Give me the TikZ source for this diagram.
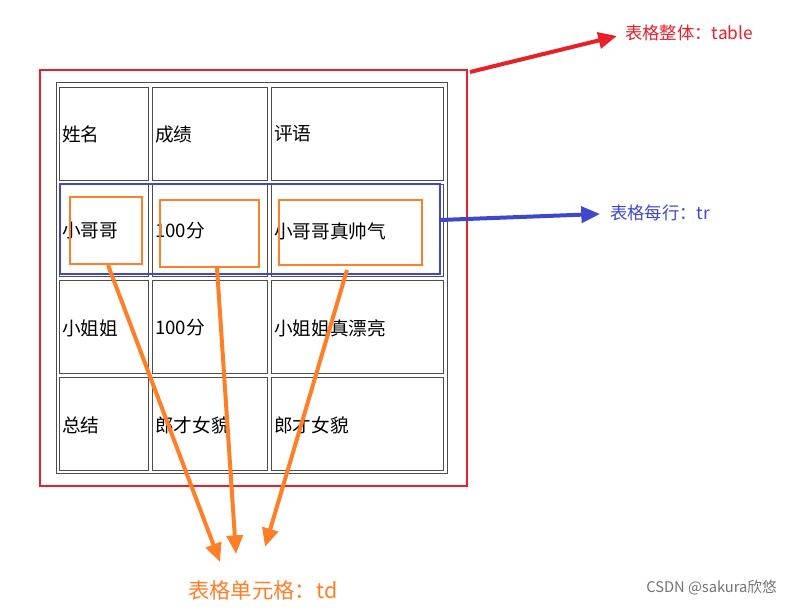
\documentclass[tikz,border=0pt]{standalone}
\usepackage{fontspec}
\setmainfont{Noto Sans CJK SC}
\usetikzlibrary{arrows.meta}
\definecolor{tred}{HTML}{E8202A}
\definecolor{tblue}{HTML}{3F48CC}
\definecolor{torange}{HTML}{FF7F27}
\tikzset{
  cellbox/.style={draw=black!70, line width=0.6pt},
  celltxt/.style={anchor=west, inner sep=0pt, font=\fontsize{14}{16}\selectfont},
  callout/.style={line width=3pt, -{Triangle[length=14pt,width=12pt]}},
  lbl/.style={anchor=west, inner sep=0pt, font=\fontsize{13}{15}\selectfont}
}
\begin{document}
\begin{tikzpicture}[x=0.75pt,y=-0.75pt]
\useasboundingbox (0,0) rectangle (792,609);
% table outer border
\draw[cellbox] (56,82) rectangle (447,473);
% cells
\foreach \xa/\xb in {59/148,152/267,271/443}{
  \foreach \ya/\yb in {87/180,184/276,280/373,377/470}{
    \draw[cellbox] (\xa,\ya) rectangle (\xb,\yb);
  }
}
\node[celltxt] (c11) at (62,134) {姓名};
\node[celltxt] (c12) at (155,134) {成绩};
\node[celltxt] (c13) at (274,134) {评语};
\node[celltxt] (c21) at (62,231) {小哥哥};
\node[celltxt] (c22) at (155,231) {100分};
\node[celltxt] (c23) at (274,231) {小哥哥真帅气};
\node[celltxt] (c31) at (62,328) {小姐姐};
\node[celltxt] (c32) at (155,328) {100分};
\node[celltxt] (c33) at (274,328) {小姐姐真漂亮};
\node[celltxt] (c41) at (62,425) {总结};
\node[celltxt] (c42) at (155,425) {郎才女貌};
\node[celltxt] (c43) at (274,425) {郎才女貌};
% highlights
\draw[tred, line width=2.2pt] (40,70) rectangle (467,486);
\draw[tblue, line width=2.2pt] (60,184) rectangle (440,274);
\draw[torange, line width=2.2pt] (70,197) rectangle (142,264);
\draw[torange, line width=2.2pt] (160,200) rectangle (259,267);
\draw[torange, line width=2.2pt] (279,200) rectangle (422,265);
% labels
\node[lbl, text=tred] (ltable) at (625,33) {表格整体：table};
\node[lbl, text=tblue] (ltr) at (610,213) {表格每行：tr};
\node[lbl, text=torange, font=\fontsize{16}{18}\selectfont] (ltd) at (188,590) {表格单元格：td};
\node[anchor=east, inner sep=0pt, text=black!55, font=\fontsize{11}{13}\selectfont] (wm) at (777,588) {CSDN @sakura欣悠};
% connectors
\coordinate (ta) at (470,72); \coordinate (tb) at (617,36);
\draw[tred, callout] (ta) -- (tb);
\coordinate (ra) at (440,220); \coordinate (rb) at (600,214);
\draw[tblue, callout] (ra) -- (rb);
\coordinate (o1) at (108,265); \coordinate (e1) at (220,562);
\coordinate (o2) at (217,268); \coordinate (e2) at (236,554);
\coordinate (o3) at (347,270); \coordinate (e3) at (265,547);
\draw[torange, callout] (o1) -- (e1);
\draw[torange, callout] (o2) -- (e2);
\draw[torange, callout] (o3) -- (e3);
\end{tikzpicture}
\end{document}
